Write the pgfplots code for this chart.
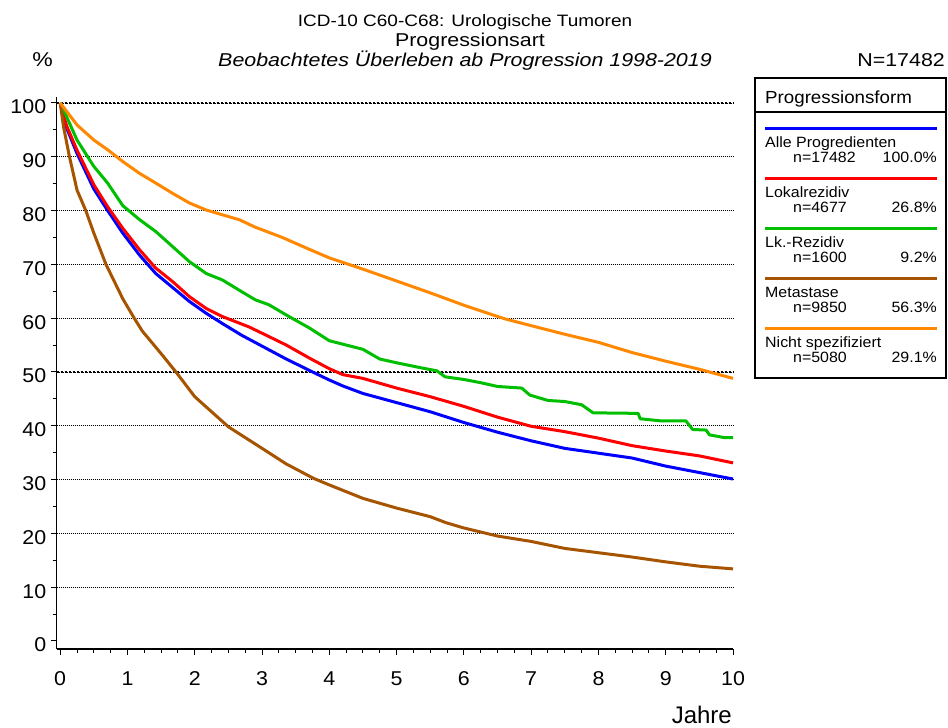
\documentclass[border=0pt]{standalone}
\usepackage{pgfplots}
\pgfplotsset{compat=1.18}
\usepackage{fontspec}
\setmainfont{Liberation Sans}
\newfontfamily\tfont[FakeStretch=1.15]{Liberation Sans}
\newfontfamily\lfont[FakeStretch=1.07]{Liberation Sans}
\definecolor{cBlue}{RGB}{0,0,255}
\definecolor{cRed}{RGB}{255,0,0}
\definecolor{cGreen}{RGB}{0,190,0}
\definecolor{cBrown}{RGB}{166,84,0}
\definecolor{cOrange}{RGB}{255,136,0}
\newcommand{\fs}[1]{\fontsize{#1bp}{#1bp}\selectfont}
\begin{document}
\begin{tikzpicture}[x=1bp,y=1bp]
\path[use as bounding box] (0,0) rectangle (948,728);
\begin{axis}[
  at={(56.7bp,79bp)}, anchor=south west,
  scale only axis, width=676.3bp, height=552bp,
  xmin=-0.052, xmax=10, ymin=-1.49, ymax=101.1,
  axis x line*=bottom, axis y line*=left,
  axis line style={line width=1.3bp, -},
  xtick={0,...,10}, minor x tick num=3,
  ytick={10,20,...,100}, extra y ticks={0}, minor ytick={5,15,...,95},
  ymajorgrids,
  major grid style={dash pattern=on 1bp off 1bp, line width=0.8bp, black},
  extra y tick style={grid=none},
  tick align=outside, major tick length=6bp, minor tick length=4bp,
  tick style={line width=1bp, black},
  ticklabel style={font=\lfont\fs{20}},
  xticklabel style={yshift=-13bp},
  yticklabel style={yshift=-4bp, xshift=-1bp},
  /pgf/number format/assume math mode=true,
  clip=false,
]
\draw[dash pattern=on 2bp off 2bp, line width=2bp] (axis cs:-0.052,50) -- (axis cs:10,50);
\draw[dash pattern=on 2bp off 2bp, line width=2bp] (axis cs:-0.052,100) -- (axis cs:10,100);
\addplot[cBlue, line width=3bp, line join=round] coordinates {
(0,100)(0.05,97.3)(0.1,95.2)(0.25,90.6)(0.5,84)(0.705,80)(0.93,75.8)(1.18,71.7)(1.42,68.3)(1.67,65.7)(1.92,63.1)(2.17,60.9)(2.41,59)(2.7,56.8)(3,54.8)(3.36,52.4)(3.75,50)(4,48.5)(4.2,47.4)(4.5,46)(5,44.3)(5.5,42.6)(6,40.6)(6.5,38.8)(7,37.2)(7.5,35.8)(8,34.9)(8.5,34)(9,32.5)(9.5,31.3)(10,30.1)};
\addplot[cRed, line width=3bp, line join=round] coordinates {
(0,100)(0.05,97.6)(0.1,95.6)(0.25,91.2)(0.5,84.8)(0.705,80.7)(0.93,76.7)(1.18,72.7)(1.42,69.3)(1.67,66.8)(1.92,64)(2.17,61.8)(2.41,60.3)(2.8,58.4)(3,57.2)(3.36,55)(3.7,52.6)(4,50.6)(4.2,49.5)(4.5,48.8)(5,47)(5.5,45.4)(6,43.6)(6.5,41.6)(7,39.9)(7.5,38.9)(8,37.7)(8.5,36.3)(9,35.3)(9.5,34.4)(10,33.1)};
\addplot[cGreen, line width=3bp, line join=round] coordinates {
(0,100)(0.1,97.3)(0.25,93.1)(0.5,88.2)(0.705,85.1)(0.93,80.9)(1.18,78.3)(1.42,76.1)(1.67,73.3)(1.92,70.5)(2.17,68.3)(2.41,67.1)(2.66,65.2)(2.9,63.4)(3.1,62.5)(3.4,60.3)(3.7,58.2)(4,55.8)(4.5,54.2)(4.75,52.4)(5,51.7)(5.35,50.8)(5.6,50.2)(5.72,49.1)(6,48.6)(6.25,48)(6.5,47.3)(6.86,47)(6.98,45.7)(7.25,44.7)(7.5,44.5)(7.75,43.9)(7.92,42.4)(8.59,42.3)(8.62,41.3)(8.93,40.9)(9.3,40.9)(9.4,39.3)(9.6,39.2)(9.65,38.3)(9.87,37.8)(10,37.8)};
\addplot[cBrown, line width=3bp, line join=round] coordinates {
(0,100)(0.05,95.5)(0.136,90.1)(0.25,83.8)(0.38,80)(0.5,75.8)(0.68,70)(0.93,63.6)(1.1,60)(1.22,57.6)(1.5,53.4)(1.72,50)(2,45.4)(2.5,39.8)(3,35.8)(3.36,32.9)(3.77,30.2)(4,29)(4.5,26.5)(5,24.7)(5.5,23.1)(5.73,22)(6,21)(6.5,19.5)(7,18.5)(7.5,17.2)(8,16.4)(8.5,15.6)(9,14.7)(9.5,13.9)(10,13.4)};
\addplot[cOrange, line width=3bp, line join=round] coordinates {
(0,100)(0.25,95.9)(0.5,93.1)(0.705,91.3)(0.93,89.1)(1.18,86.9)(1.42,85.1)(1.67,83.2)(1.92,81.4)(2.17,80.1)(2.41,79.2)(2.66,78.3)(2.9,76.9)(3.3,75)(3.7,72.8)(4,71.2)(4.5,69.1)(5,66.9)(5.5,64.7)(6,62.4)(6.6,59.9)(7,58.6)(7.5,57)(8,55.5)(8.5,53.6)(9,52)(9.5,50.5)(10,48.8)};
\end{axis}
% titles
\node[anchor=base, inner sep=0pt, font=\tfont\fs{16.5}] at (465,701.3) {ICD-10 C60-C68: Urologische Tumoren};
\node[anchor=base, inner sep=0pt, font=\tfont\fs{18.6}] at (470,681.3) {Progressionsart};
\node[anchor=base, inner sep=0pt, font=\tfont\fs{18.6}\itshape] at (465,661.3) {Beobachtetes Überleben ab Progression 1998-2019};
\node[anchor=base east, inner sep=0pt, font=\tfont\fs{18.6}] at (945,661.3) {N=17482};
\node[anchor=base, inner sep=0pt, font=\tfont\fs{20}] at (42.5,661.3) {\%};
\node[anchor=base east, inner sep=0pt, font=\fs{24}] at (732,4.7) {Jahre};
% legend
\draw[line width=1.3bp] (755,350) rectangle (946,650);
\draw[line width=1.3bp] (755,616) -- (946,616);
\node[anchor=base west, inner sep=0pt, font=\lfont\fs{17.5}] at (765,624.7) {Progressionsform};
\foreach \k/\col/\name/\n/\p in {0/cBlue/Alle Progredienten/17482/100.0,1/cRed/Lokalrezidiv/4677/26.8,2/cGreen/Lk.-Rezidiv/1600/9.2,3/cBrown/Metastase/9850/56.3,4/cOrange/Nicht spezifiziert/5080/29.1}{
  \draw[\col, line width=2.7bp] (765,{728-128.3-50*\k}) -- (937,{728-128.3-50*\k});
  \node[anchor=base west, inner sep=0pt, font=\lfont\fs{14.9}] at (765,{728-147.3-50*\k}) {\name};
  \node[anchor=base west, inner sep=0pt, font=\lfont\fs{14.9}] at (793,{728-162.7-50*\k}) {n=\n};
  \node[anchor=base east, inner sep=0pt, font=\lfont\fs{14.9}] at (937,{728-162.7-50*\k}) {\p\%};
}
\end{tikzpicture}
\end{document}
